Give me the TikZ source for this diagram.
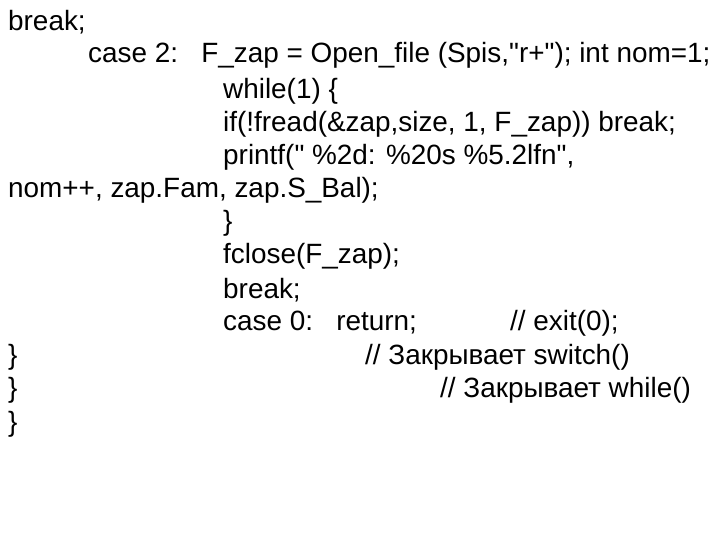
\documentclass[tikz,border=0pt]{standalone}
\usepackage{fontspec}
\newfontfamily\codefont{Liberation Sans}
\begin{document}
\begin{tikzpicture}[x=1bp,y=-1bp,txt/.style={anchor=west,inner sep=0pt,font=\codefont\fontsize{28}{32}\selectfont}]
\useasboundingbox (0,0) rectangle (720,540);
\node[txt] (l1) at (8,22) {break;};
\node[txt] (l2) at (88,55) {case 2:\ \ \ F\_zap = Open\_file (Spis,"r+"); int nom=1;};
\node[txt] (l3) at (223,91) {while(1) \{};
\node[txt] (l4) at (223,124) {if(!fread(\&zap,size, 1, F\_zap)) break;};
\node[txt] (l5) at (223,157) {printf(" \%2d: \%20s \%5.2lfn",};
\node[txt] (l6) at (8,190) {nom++, zap.Fam, zap.S\_Bal);};
\node[txt] (l7) at (223,223) {\}};
\node[txt] (l8) at (223,256) {fclose(F\_zap);};
\node[txt] (l9) at (223,290) {break;};
\node[txt] (l10) at (223,323) {case 0:\ \ \ return;};
\node[txt] (l10b) at (510,323) {// exit(0);};
\node[txt] (l11) at (8,357) {\}};
\node[txt] (l11b) at (365,357) {// Закрывает switch()};
\node[txt] (l12) at (8,390) {\}};
\node[txt] (l12b) at (440,390) {// Закрывает while()};
\node[txt] (l13) at (8,424) {\}};
\end{tikzpicture}
\end{document}
